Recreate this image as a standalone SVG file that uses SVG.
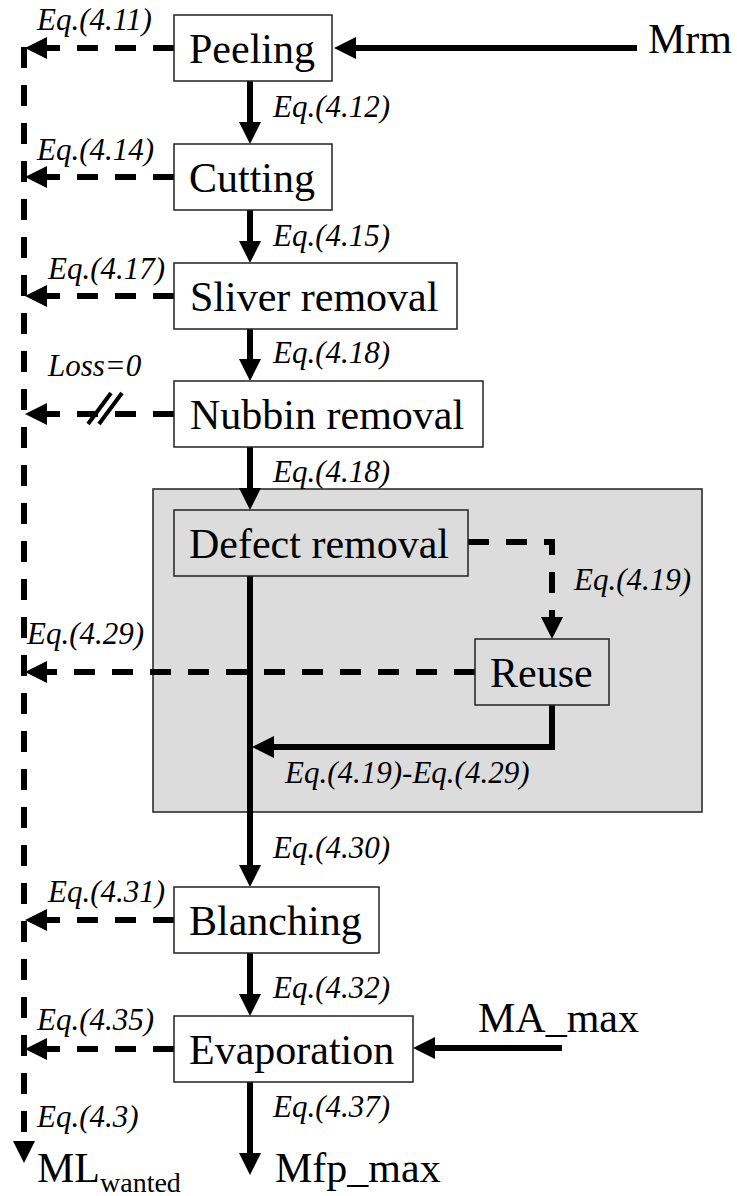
<svg xmlns="http://www.w3.org/2000/svg" width="737" height="1196" viewBox="0 0 737 1196">
<style>
.box{fill:#fff;stroke:#222;stroke-width:1.5}
.gbox{fill:#dcdcdc;stroke:#222;stroke-width:1.5}
.t{font-family:'Liberation Serif','Times New Roman',Tinos,'DejaVu Serif',serif;font-size:42px;fill:#000}
.lab{font-family:'Liberation Serif','Times New Roman',Tinos,'DejaVu Serif',serif;font-size:31px;font-style:italic;fill:#000}
.solid{fill:none;stroke:#000;stroke-width:6}
.dash{fill:none;stroke:#000;stroke-width:6;stroke-dasharray:21 17}
</style>
<defs>
<marker id="ah" markerUnits="userSpaceOnUse" markerWidth="22" markerHeight="22" refX="0" refY="11" orient="auto" viewBox="0 0 22 22">
<path d="M0,0 L22,11 L0,22 z" fill="#000"/>
</marker>
</defs>
<rect id="group-box" class="gbox" x="153" y="489" width="549" height="323"/>
<g id="connectors">
<path class="solid" d="M637,48 H356" marker-end="url(#ah)"/>
<path class="solid" d="M250,81 V122" marker-end="url(#ah)"/>
<path class="solid" d="M250,210 V241" marker-end="url(#ah)"/>
<path class="solid" d="M250,329 V359" marker-end="url(#ah)"/>
<path class="solid" d="M250,447 V488" marker-end="url(#ah)"/>
<path class="solid" d="M250,576 V865" marker-end="url(#ah)"/>
<path class="solid" d="M250,953 V994" marker-end="url(#ah)"/>
<path class="solid" d="M250,1082 V1153" marker-end="url(#ah)"/>
<path class="solid" d="M562,1048 H435" marker-end="url(#ah)"/>
<path class="solid" d="M552,705 V747 H274" marker-end="url(#ah)"/>
<path class="dash" d="M468,542 H552 V617" marker-end="url(#ah)"/>
<path class="dash" d="M174,48 H47" marker-end="url(#ah)"/>
<path class="dash" d="M174,177 H47" marker-end="url(#ah)"/>
<path class="dash" d="M174,296 H47" marker-end="url(#ah)"/>
<path class="dash" d="M174,414 H47" marker-end="url(#ah)"/>
<path class="dash" d="M475,672 H47" marker-end="url(#ah)"/>
<path class="dash" d="M174,920 H47" marker-end="url(#ah)"/>
<path class="dash" d="M174,1049 H47" marker-end="url(#ah)"/>
<path class="dash" d="M24,47 V1141" marker-end="url(#ah)"/>
<path d="M88,424 L111,393 M99,424 L122,393" fill="none" stroke="#000" stroke-width="4"/>
</g>
<g id="peeling"><rect class="box" x="174" y="15" width="158" height="66"/><text class="t" x="189" y="63">Peeling</text></g>
<g id="cutting"><rect class="box" x="174" y="144" width="158" height="66"/><text class="t" x="189" y="192">Cutting</text></g>
<g id="sliver"><rect class="box" x="174" y="263" width="283" height="66"/><text class="t" x="190" y="311">Sliver removal</text></g>
<g id="nubbin"><rect class="box" x="174" y="381" width="309" height="66"/><text class="t" x="190" y="429">Nubbin removal</text></g>
<g id="defect"><rect class="gbox" x="174" y="510" width="294" height="66"/><text class="t" x="189" y="558">Defect removal</text></g>
<g id="reuse"><rect class="gbox" x="475" y="639" width="134" height="66"/><text class="t" x="490" y="687">Reuse</text></g>
<g id="blanching"><rect class="box" x="174" y="887" width="205" height="66"/><text class="t" x="189" y="935">Blanching</text></g>
<g id="evaporation"><rect class="box" x="174" y="1016" width="239" height="66"/><text class="t" x="189" y="1064">Evaporation</text></g>
<g id="mrm"><text class="t" x="648" y="53">Mrm</text></g>
<g id="mamax"><text class="t" x="478" y="1032">MA_max</text></g>
<g id="mfpmax"><text class="t" x="275" y="1182">Mfp_max</text></g>
<g id="mlwanted"><text class="t" x="37" y="1182">ML<tspan font-size="28" dy="10">wanted</tspan></text></g>
<g id="labels">
<text class="lab" x="37" y="30">Eq.(4.11)</text>
<text class="lab" x="273" y="117">Eq.(4.12)</text>
<text class="lab" x="37" y="160">Eq.(4.14)</text>
<text class="lab" x="273" y="246">Eq.(4.15)</text>
<text class="lab" x="48" y="279">Eq.(4.17)</text>
<text class="lab" x="273" y="363">Eq.(4.18)</text>
<text class="lab" x="48" y="376">Loss=0</text>
<text class="lab" x="273" y="482">Eq.(4.18)</text>
<text class="lab" x="574" y="590">Eq.(4.19)</text>
<text class="lab" x="27" y="644">Eq.(4.29)</text>
<text class="lab" x="285" y="783">Eq.(4.19)-Eq.(4.29)</text>
<text class="lab" x="273" y="858">Eq.(4.30)</text>
<text class="lab" x="48" y="902">Eq.(4.31)</text>
<text class="lab" x="273" y="998">Eq.(4.32)</text>
<text class="lab" x="37" y="1030">Eq.(4.35)</text>
<text class="lab" x="273" y="1117">Eq.(4.37)</text>
<text class="lab" x="37" y="1127">Eq.(4.3)</text>
</g>
</svg>
